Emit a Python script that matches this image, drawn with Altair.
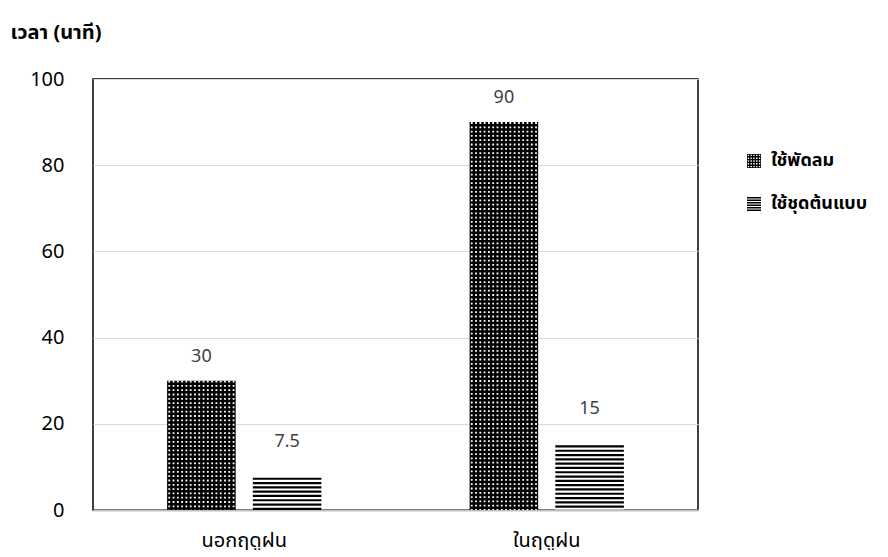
import altair as alt
import pandas as pd

# ---- data ----
categories = ["นอกฤดูฝน", "ในฤดูฝน"]
series = ["ใช้พัดลม", "ใช้ชุดต้นแบบ"]
fan_minutes = [30, 90]
proto_minutes = [7.5, 15]
y_ticks = [0, 20, 40, 60, 80, 100]
y_title = "เวลา (นาที)"

# ---- layout ----
W, H = 605, 431
FONT = "Tahoma, 'Noto Sans Thai', 'Noto Sans', 'DejaVu Sans', sans-serif"
FS = 20
X_PAD_INNER = 0.49
OFF_PAD = 0.2
x_band = (W / 2) * (1 - X_PAD_INNER)
off_step = x_band / (2 - OFF_PAD)
bar_w = off_step * (1 - OFF_PAD)
N_COLS = 16
n_slots = int(round(x_band / (bar_w / N_COLS)))
slots = [f"s{i}" for i in range(n_slots)]

rows = []
for c, f, p in zip(categories, fan_minutes, proto_minutes):
    rows.append({"cat": c, "series": series[0], "minutes": f, "label": f"{f:g}"})
    rows.append({"cat": c, "series": series[1], "minutes": p, "label": f"{p:g}"})
df = pd.DataFrame(rows)

dot_rows = []
for c, f in zip(categories, fan_minutes):
    for k in range(N_COLS):
        dot_rows.append({"cat": c, "slot": slots[k], "minutes": f})
dots = pd.DataFrame(dot_rows)

xscale = alt.Scale(domain=categories, paddingInner=X_PAD_INNER, paddingOuter=X_PAD_INNER / 2)
offscale = alt.Scale(type="band", domain=series, paddingInner=OFF_PAD, paddingOuter=0)
yscale = alt.Scale(domain=[0, 100])

x_axis = alt.Axis(title=None, labelAngle=0, ticks=False, domain=True,
                  domainColor="#bfbfbf", domainWidth=2,
                  labelFont=FONT, labelFontSize=FS, labelFontWeight="normal",
                  labelColor="black", labelPadding=20)
y_axis = alt.Axis(values=y_ticks, title=y_title, titleAngle=0, titleAlign="left",
                  titleBaseline="middle", titleX=-83, titleY=-47,
                  titleFont=FONT, titleFontSize=FS, titleFontWeight="bold",
                  titleColor="black", labelFont=FONT, labelFontSize=FS,
                  labelFontWeight="normal", labelColor="black", labelPadding=29,
                  ticks=False, domain=False, grid=True, gridColor="#d9d9d9",
                  gridWidth=1.2)

def X():
    return alt.X("cat:N", scale=xscale, sort=categories, axis=x_axis)

def Y():
    return alt.Y("minutes:Q", scale=yscale, axis=y_axis, title=y_title)

bars = alt.Chart(df).mark_bar().encode(
    x=X(),
    xOffset=alt.XOffset("series:N", scale=offscale),
    y=Y(),
    fill=alt.condition(alt.datum.series == series[0], alt.value("black"), alt.value("white")),
)

stripes = alt.Chart(df).transform_filter(
    alt.datum.series == series[1]
).mark_rule(color="black", strokeWidth=bar_w, strokeDash=[2.2, 2.1], strokeCap="butt").encode(
    x=X(),
    xOffset=alt.XOffset("series:N", scale=offscale),
    y=Y(),
    y2=alt.datum(0),
)

dot_layer = alt.Chart(dots).mark_rule(color="white", strokeWidth=1.8, strokeDash=[1.8, 2.5], strokeCap="butt").encode(
    x=X(),
    xOffset=alt.XOffset("slot:N", scale=alt.Scale(type="band", domain=slots, paddingInner=0, paddingOuter=0)),
    y=Y(),
    y2=alt.datum(0),
)

def labels(s, dy):
    return alt.Chart(df).transform_filter(alt.datum.series == s).mark_text(
        dy=dy, font="'Noto Sans', 'DejaVu Sans', sans-serif", fontSize=18,
        color="#404040", baseline="middle", align="center"
    ).encode(
        x=X(),
        xOffset=alt.XOffset("series:N", scale=alt.Scale(type="point", domain=series, padding=0.4)),
        y=Y(),
        text="label:N",
    )

# legend symbols as custom paths
holes = []
for cy in [-0.8, -0.4, 0.0, 0.4, 0.8]:
    for cx in [-0.8, -0.4, 0.0, 0.4, 0.8]:
        x0, y0, h = cx - 0.1, cy - 0.1, 0.2
        holes.append(f"M{x0:.2f},{y0:.2f}V{y0+h:.2f}H{x0+h:.2f}V{y0:.2f}Z")
path_dots = "M-1,-1H1V1H-1Z" + "".join(holes)
stripe_parts = []
for k in range(6):
    y0 = -1 + k * 0.36
    stripe_parts.append(f"M-1,{y0:.2f}H1V{y0+0.2:.2f}H-1Z")
path_stripes = "".join(stripe_parts)

legend_layer = alt.Chart(df).mark_point(filled=True, color="black", opacity=0).encode(
    x=X(),
    y=Y(),
    shape=alt.Shape("series:N",
                    scale=alt.Scale(domain=series, range=[path_dots, path_stripes]),
                    legend=alt.Legend(title=None, orient="none", legendX=652, legendY=73,
                                      symbolSize=196, symbolFillColor="black",
                                      symbolStrokeColor="black",
                                      symbolStrokeWidth=0, symbolOpacity=1,
                                      labelFont=FONT, labelFontSize=18,
                                      labelFontWeight="bold", labelColor="black",
                                      rowPadding=25, labelOffset=8)),
)

chart = alt.layer(
    bars, stripes, dot_layer, labels(series[0], -24), labels(series[1], -36), legend_layer
).resolve_scale(xOffset="independent").properties(
    width=W, height=H, padding={"left": 2, "top": 14, "right": 0, "bottom": 0}
).configure_view(stroke="black", strokeWidth=1.5)

chart.save("out.html", embed_options={"renderer": "svg", "actions": False})
